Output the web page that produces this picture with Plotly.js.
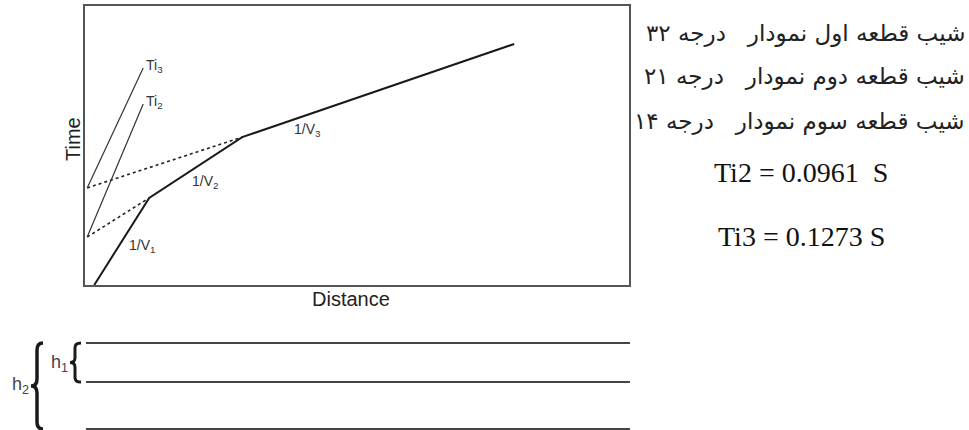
<!DOCTYPE html>
<html lang="fa">
<head>
  <meta charset="UTF-8" />
  <title>Travel time - distance</title>
  <script src="https://cdn.plot.ly/plotly-3.0.1.min.js"></script>
  <style>
    html, body { margin: 0; padding: 0; background: white; }
    #chart { width: 969px; height: 430px; }
  </style>
</head>
<body>
  <div id="chart"></div>

  <script>
    // travel-time curve (distance, time), arbitrary units 0-100
    const refrDist = [1.7, 11.8, 28.9, 78.9];
    const refrTime = [0, 31.2, 53.0, 86.4];

    // back-projected segments (dotted) to the time axis
    const proj2Dist = [0.4, 11.8];
    const proj2Time = [17.2, 31.2];
    const proj3Dist = [0.4, 28.9];
    const proj3Time = [34.8, 53.0];

    // intercept lines Ti2, Ti3
    const ti2Dist = [0.4, 10.7];
    const ti2Time = [17.2, 64.9];
    const ti3Dist = [0.4, 10.7];
    const ti3Time = [34.8, 77.8];

    // segment labels
    const segLabels = ['1/V<sub>1</sub>', '1/V<sub>2</sub>', '1/V<sub>3</sub>', 'Ti<sub>2</sub>', 'Ti<sub>3</sub>'];
    const segLabelX = [7.7, 19.3, 38.0, 10.8, 10.8];
    const segLabelY = [14.0, 37.0, 55.6, 65.6, 78.5];

    // layer boundaries below (depth, arbitrary units)
    const layerDepth = [0, 1, 2.2];

    // text on the right
    const gap = '\u00a0\u00a0\u00a0';
    const slopeLines = [
      'شیب قطعه اول نمودار' + gap + 'درجه ۳۲',
      'شیب قطعه دوم نمودار' + gap + 'درجه ۲۱',
      'شیب قطعه سوم نمودار' + gap + 'درجه ۱۴'
    ];
    const interceptLines = ['Ti2 = 0.0961\u00a0\u00a0S', 'Ti3 = 0.1273 S'];

    const W = 969, H = 430;
    const px = x => x / W;
    const py = y => 1 - y / H;

    const ink = '#222';
    const traces = [
      { x: refrDist, y: refrTime, mode: 'lines', line: { color: '#1a1a1a', width: 2 } },
      { x: proj2Dist, y: proj2Time, mode: 'lines', line: { color: ink, width: 1.6, dash: '3px,3px' } },
      { x: proj3Dist, y: proj3Time, mode: 'lines', line: { color: ink, width: 1.6, dash: '3px,3px' } },
      { x: ti2Dist, y: ti2Time, mode: 'lines', line: { color: '#333', width: 1.2 } },
      { x: ti3Dist, y: ti3Time, mode: 'lines', line: { color: '#333', width: 1.2 } }
    ];
    layerDepth.forEach(d => {
      traces.push({ x: [0, 1], y: [d, d], xaxis: 'x2', yaxis: 'y2', mode: 'lines',
                    line: { color: '#444', width: 2 } });
    });
    traces.forEach(t => { t.hoverinfo = 'skip'; t.showlegend = false; t.type = 'scatter'; });

    const annotations = [];
    segLabels.forEach((txt, i) => {
      annotations.push({ x: segLabelX[i], y: segLabelY[i], xref: 'x', yref: 'y', text: txt,
        showarrow: false, xanchor: 'left', yanchor: 'middle',
        font: { family: 'Liberation Sans, Arial', size: 14, color: '#333' } });
    });
    // axis titles
    annotations.push({ x: px(351), y: py(299), xref: 'paper', yref: 'paper', text: 'Distance',
      showarrow: false, xanchor: 'center', yanchor: 'middle',
      font: { family: 'Liberation Sans, Arial', size: 20, color: '#222' } });
    annotations.push({ x: px(73), y: py(139), xref: 'paper', yref: 'paper', text: 'Time',
      showarrow: false, textangle: -90, xanchor: 'center', yanchor: 'middle',
      font: { family: 'Liberation Sans, Arial', size: 20, color: '#222' } });

    const slopeY = [33, 76, 121];
    slopeLines.forEach((txt, i) => {
      annotations.push({ x: px(967), y: py(slopeY[i]), xref: 'paper', yref: 'paper', text: txt,
        showarrow: false, xanchor: 'right', yanchor: 'middle',
        font: { family: 'DejaVu Sans', size: 23, color: '#222' } });
    });
    const interceptY = [172, 236];
    interceptLines.forEach((txt, i) => {
      annotations.push({ x: px(801), y: py(interceptY[i]), xref: 'paper', yref: 'paper', text: txt,
        showarrow: false, xanchor: 'center', yanchor: 'middle',
        font: { family: 'Liberation Serif, Times New Roman', size: 28, color: '#111' } });
    });

    // layer thickness labels
    annotations.push({ x: px(20), y: py(385), xref: 'paper', yref: 'paper', text: 'h<sub>2</sub>',
      showarrow: false, xanchor: 'center', yanchor: 'middle',
      font: { family: 'Liberation Sans, Arial', size: 18, color: '#444' } });
    annotations.push({ x: px(59), y: py(363), xref: 'paper', yref: 'paper', text: 'h<sub>1</sub>',
      showarrow: false, xanchor: 'center', yanchor: 'middle',
      font: { family: 'Liberation Sans, Arial', size: 18, color: '#444' } });

    // curly brace path: x in pixels (converted to paper), y in depth units
    function brace(xTip, xStem, xEnd, d0, d1, r) {
      const dm = (d0 + d1) / 2;
      const a = px(xTip), s = px(xStem), e = px(xEnd);
      return `M ${e},${d0} Q ${s},${d0} ${s},${d0 + r} L ${s},${dm - r} Q ${s},${dm} ${a},${dm}` +
             ` Q ${s},${dm} ${s},${dm + r} L ${s},${d1 - r} Q ${s},${d1} ${e},${d1}`;
    }
    const shapes = [
      { type: 'path', xref: 'paper', yref: 'y2', path: brace(31, 37, 43, layerDepth[0], layerDepth[2], 0.18),
        line: { color: '#1a1a1a', width: 3.5 } },
      { type: 'path', xref: 'paper', yref: 'y2', path: brace(70, 75, 81, layerDepth[0], layerDepth[1], 0.12),
        line: { color: '#1a1a1a', width: 3 } }
    ];

    const axisBox = { showline: true, mirror: true, linecolor: '#555', linewidth: 2,
                      showgrid: false, zeroline: false, showticklabels: false, ticks: '', fixedrange: true };

    const layout = {
      width: W, height: H,
      margin: { l: 0, r: 0, t: 0, b: 0 },
      paper_bgcolor: 'white', plot_bgcolor: 'white',
      showlegend: false,
      xaxis: Object.assign({ domain: [px(85), px(629)], range: [0, 100] }, axisBox),
      yaxis: Object.assign({ domain: [py(285), py(6)], range: [0, 100] }, axisBox),
      xaxis2: { domain: [px(86), px(630)], range: [0, 1], visible: false, anchor: 'y2' },
      yaxis2: { domain: [0, 0.22], range: [2.226, -0.194], visible: false, anchor: 'x2' },
      annotations: annotations,
      shapes: shapes
    };

    Plotly.newPlot('chart', traces, layout, { staticPlot: true, displayModeBar: false });
  </script>
</body>
</html>
